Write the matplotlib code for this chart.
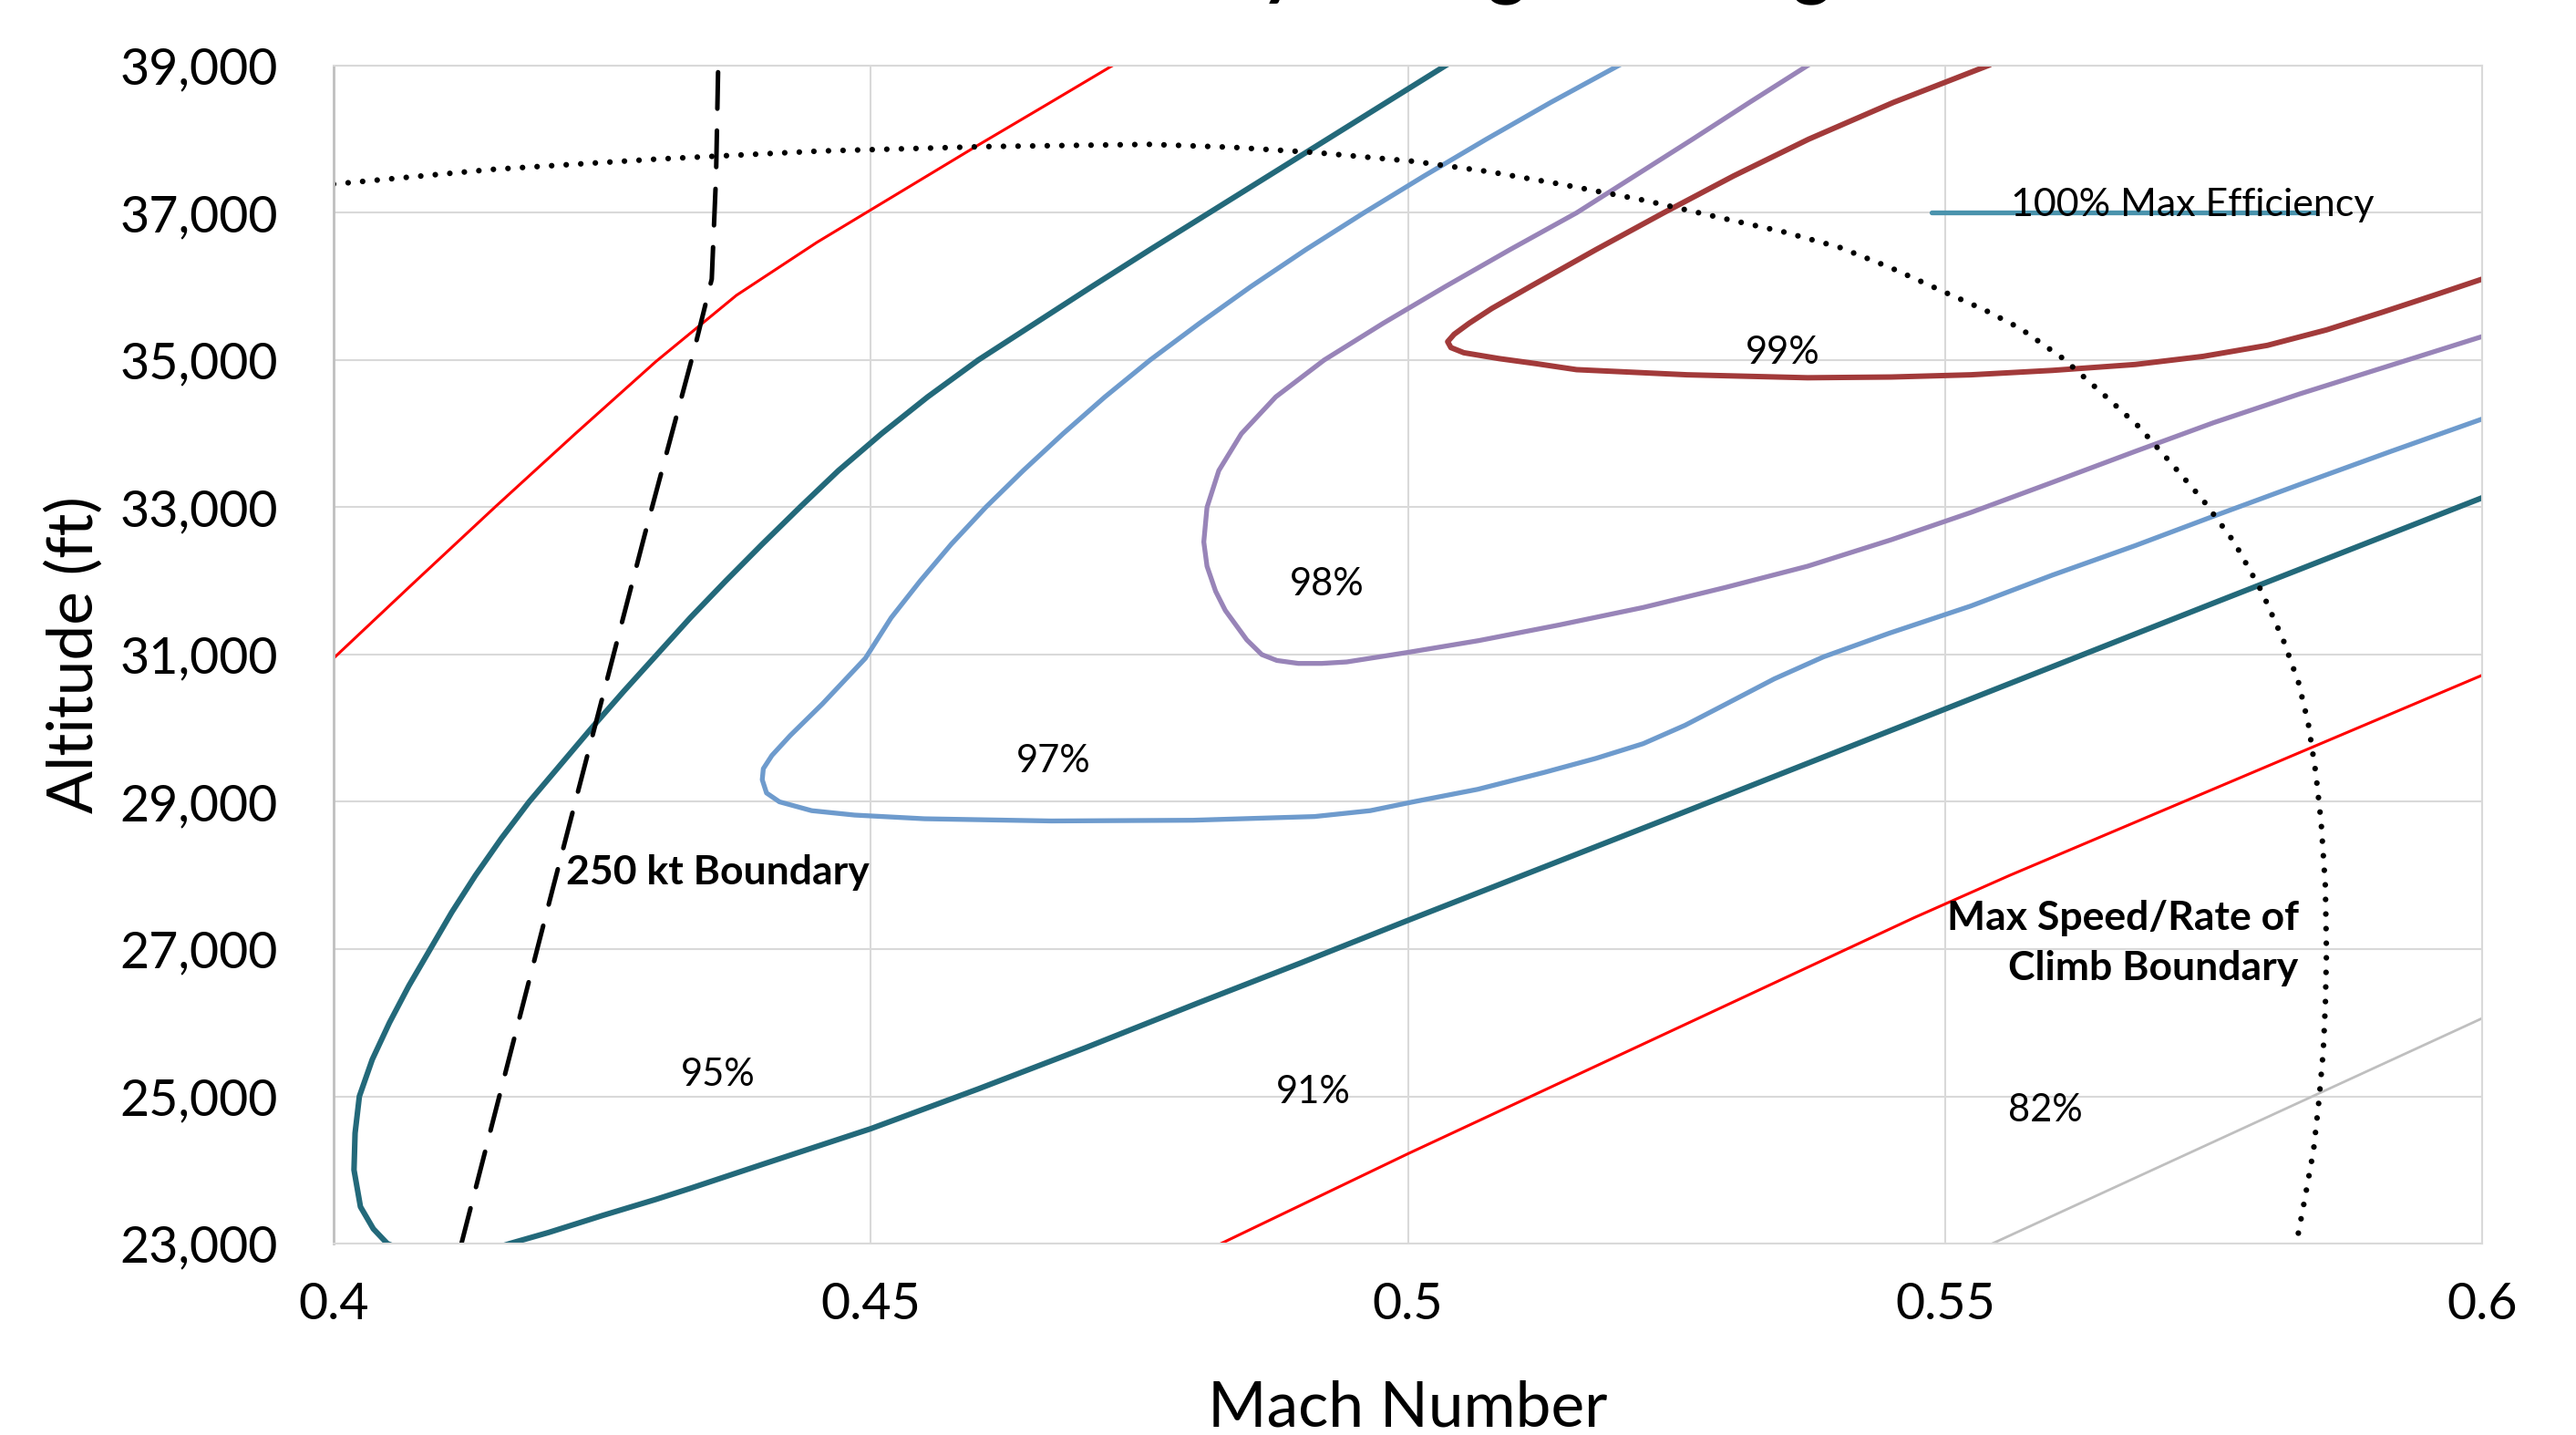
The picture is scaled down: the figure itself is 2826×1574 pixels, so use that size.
import matplotlib.pyplot as plt
from matplotlib.ticker import FuncFormatter

plt.rcParams['font.family'] = ['Lato', 'DejaVu Sans']

# efficiency contours, (Mach, altitude ft)
red_hi_mach = [0.4, 0.4075, 0.415, 0.4225, 0.43, 0.4375, 0.445, 0.4525, 0.46,
               0.4665, 0.4725]
red_hi_alt = [30950, 31980, 33000, 34000, 34980, 35880, 36600, 37260, 37920,
              38480, 39000]

c95_mach = [0.5035, 0.498, 0.4925, 0.487, 0.4815, 0.476, 0.4706, 0.4653, 0.46,
            0.4553, 0.451, 0.447, 0.4434, 0.4399, 0.4365, 0.4332, 0.4301, 0.427,
            0.424, 0.4211, 0.4182, 0.4156, 0.4132, 0.411, 0.409, 0.407, 0.4052,
            0.4036, 0.4024, 0.402, 0.4019, 0.4025, 0.4037, 0.405, 0.41,
            0.4164, 0.42, 0.425, 0.43, 0.4332, 0.44, 0.45, 0.46, 0.47, 0.4805,
            0.49, 0.5, 0.525, 0.55, 0.575, 0.6]
c95_alt = [39000, 38500, 38000, 37500, 37000, 36500, 36000, 35500, 35000,
           34500, 34000, 33500, 33000, 32500, 32000, 31500, 31000, 30500,
           30000, 29500, 29000, 28500, 28000, 27500, 27000, 26500, 26000,
           25500, 25000, 24500, 24000, 23500, 23200, 23000, 22700,
           23000, 23150, 23380, 23600, 23750, 24080, 24560, 25100, 25660, 26270,
           26810, 27390, 28820, 30260, 31700, 33130]

c97_mach = [0.5196, 0.5133, 0.5073, 0.5015, 0.4959, 0.4905, 0.4854, 0.4806, 0.476,
            0.4718, 0.4679, 0.4642, 0.4607, 0.4575, 0.4546, 0.4519, 0.4495,
            0.4455, 0.4425, 0.4408, 0.44, 0.4399, 0.4403, 0.4415, 0.4445, 0.4485,
            0.455, 0.4668, 0.48, 0.4913, 0.4965, 0.5005, 0.5065, 0.5127, 0.5175,
            0.5219, 0.5258, 0.5295, 0.5341, 0.5387, 0.5448, 0.5524, 0.56, 0.5677,
            0.575, 0.583, 0.5915, 0.6]
c97_alt = [39000, 38500, 38000, 37500, 37000, 36500, 36000, 35500, 35000,
           34500, 34000, 33500, 33000, 32500, 32000, 31500, 30950,
           30330, 29900, 29630, 29450, 29300, 29120, 29000, 28880, 28820,
           28770, 28740, 28750, 28800, 28880, 29000, 29170, 29400, 29590,
           29790, 30040, 30320, 30670, 30970, 31290, 31660, 32080, 32480,
           32880, 33310, 33760, 34200]

c98_mach = [0.5372, 0.5318, 0.5265, 0.5211, 0.5157, 0.5095, 0.5035, 0.4977, 0.4922,
            0.4877, 0.4845, 0.4824, 0.4813, 0.481, 0.4813, 0.4821, 0.483, 0.484,
            0.485, 0.4864, 0.4878, 0.4898, 0.492, 0.4943, 0.5, 0.5066, 0.514,
            0.5219, 0.5295, 0.5372, 0.545, 0.5524, 0.56, 0.5677, 0.575, 0.583,
            0.5915, 0.6]
c98_alt = [39000, 38500, 38000, 37500, 37000, 36500, 36000, 35500, 35000,
           34500, 34000, 33500, 33000, 32530, 32200, 31860, 31600, 31400,
           31200, 31000, 30920, 30880, 30880, 30900, 31030, 31190, 31400,
           31640, 31910, 32200, 32560, 32930, 33340, 33760, 34150, 34540,
           34930, 35320]

c99_mach = [0.554, 0.5452, 0.5373, 0.5303, 0.5238, 0.5175, 0.5114, 0.5078, 0.5057,
            0.5043, 0.5037, 0.504, 0.5052, 0.5085, 0.512, 0.5157, 0.526,
            0.5372, 0.545, 0.5524, 0.56, 0.5677, 0.574, 0.58, 0.5855, 0.5907,
            0.5955, 0.6]
c99_alt = [39000, 38500, 38000, 37500, 37000, 36500, 36000, 35700, 35500,
           35350, 35250, 35170, 35100, 35020, 34950, 34870, 34800,
           34760, 34770, 34800, 34860, 34940, 35050, 35200, 35410, 35650,
           35880, 36100]

red_lo_mach = [0.4826, 0.5, 0.5471, 0.556, 0.6]
red_lo_alt = [23000, 24220, 27425, 28000, 30720]

c82_mach = [0.5544, 0.6]
c82_alt = [23000, 26060]

max_eff_mach = [0.5487, 0.5845]
max_eff_alt = [37000, 37000]

# boundaries
kt250_mach = [0.4119, 0.4204, 0.429, 0.4335, 0.4352, 0.4356, 0.4358]
kt250_alt = [23000, 27820, 32650, 35100, 36100, 37500, 39000]

roc_mach = [0.4, 0.4148, 0.4301, 0.4454, 0.4607, 0.476, 0.4837, 0.4913, 0.5005,
            0.5075, 0.5142, 0.522, 0.5295, 0.535, 0.5402, 0.545, 0.55, 0.5537,
            0.557, 0.561, 0.5647, 0.568, 0.5708, 0.574, 0.5769, 0.5795, 0.5815,
            0.5829, 0.5838, 0.5845, 0.585, 0.5854, 0.5855, 0.5854, 0.5852,
            0.5848, 0.5843, 0.5835, 0.5827]
roc_alt = [37390, 37590, 37730, 37840, 37900, 37930, 37890, 37820, 37700,
           37560, 37390, 37170, 36920, 36740, 36530, 36250, 35920, 35680,
           35430, 35020, 34540, 34100, 33640, 33100, 32530, 31850, 31190,
           30620, 30070, 29400, 28730, 27850, 26950, 26250, 25610,
           24940, 24270, 23620, 23000]

pct_labels = ['95%', '91%', '82%', '97%', '98%', '99%']
pct_mach = [0.4358, 0.4912, 0.5593, 0.467, 0.4925, 0.5349]
pct_alt = [25290, 25055, 24808, 29551, 31953, 35099]

x_ticks = [0.4, 0.45, 0.5, 0.55, 0.6]
x_tick_labels = ['0.4', '0.45', '0.5', '0.55', '0.6']
y_ticks = list(range(23000, 39001, 2000))

fig = plt.figure(figsize=(28.26, 15.74), dpi=100)
ax = fig.add_axes([0.1295, 0.1334, 0.8341, 0.8209])

ax.plot(red_hi_mach, red_hi_alt, color='#FF0000', lw=2.2)
ax.plot(c95_mach, c95_alt, color='#23697A', lw=4.4, solid_joinstyle='round')
ax.plot(c97_mach, c97_alt, color='#6E9BCD', lw=3.8, solid_joinstyle='round')
ax.plot(c98_mach, c98_alt, color='#9884B8', lw=3.8, solid_joinstyle='round')
ax.plot(c99_mach, c99_alt, color='#A23A3A', lw=4.3, solid_joinstyle='round')
ax.plot(red_lo_mach, red_lo_alt, color='#FF0000', lw=2.2)
ax.plot(c82_mach, c82_alt, color='#BFBFBF', lw=2.0)
ax.plot(max_eff_mach, max_eff_alt, color='#4A93AD', lw=3.8, solid_capstyle='round')

ax.plot(kt250_mach, kt250_alt, color='black', lw=3.6,
        dashes=(8, 4.8), dash_capstyle='round')
ax.plot(roc_mach, roc_alt, color='black', lw=4.5,
        dashes=(0.001, 2.56), dash_capstyle='round')

for lab, m, a in zip(pct_labels, pct_mach, pct_alt):
    ax.text(m, a, lab, fontsize=30, ha='center', va='center')

ax.text(0.5561, 37105, '100% Max Efficiency', fontsize=31, ha='left', va='center')
ax.text(0.4216, 28040, '250 kt Boundary', fontsize=32, fontweight='bold',
        ha='left', va='center')
ax.text(0.5829, 27080, 'Max Speed/Rate of\nClimb Boundary', fontsize=32,
        fontweight='bold', ha='right', va='center', multialignment='right',
        linespacing=1.45)

ax.set_xlim(0.4, 0.6)
ax.set_ylim(23000, 39000)
ax.set_xticks(x_ticks)
ax.set_xticklabels(x_tick_labels)
ax.set_yticks(y_ticks)
ax.yaxis.set_major_formatter(FuncFormatter(lambda v, p: f'{int(v):,}'))
ax.tick_params(axis='y', length=0, pad=44, labelsize=40)
ax.tick_params(axis='x', length=0, pad=30, labelsize=40)
ax.grid(True, color='#D9D9D9', lw=1.5)
ax.set_axisbelow(True)
for side in ['top', 'right', 'bottom']:
    ax.spines[side].set_color('#D9D9D9')
    ax.spines[side].set_linewidth(1.5)
ax.spines['left'].set_color('#BFBFBF')
ax.spines['left'].set_linewidth(2)

fig.text(0.5465, 0.006, 'Mach Number', fontsize=50, ha='center', va='baseline')
fig.text(0.029, 0.5438, 'Altitude (ft)', fontsize=50, ha='center', va='center',
         rotation=90)
# chart title sits above the top edge, only its descenders show
fig.text(0.545, 1 + 11 / 1574, 'Efficiency during Climbing', fontsize=58,
         fontweight='bold', ha='center', va='baseline')

fig.savefig('out.png', dpi=100)
